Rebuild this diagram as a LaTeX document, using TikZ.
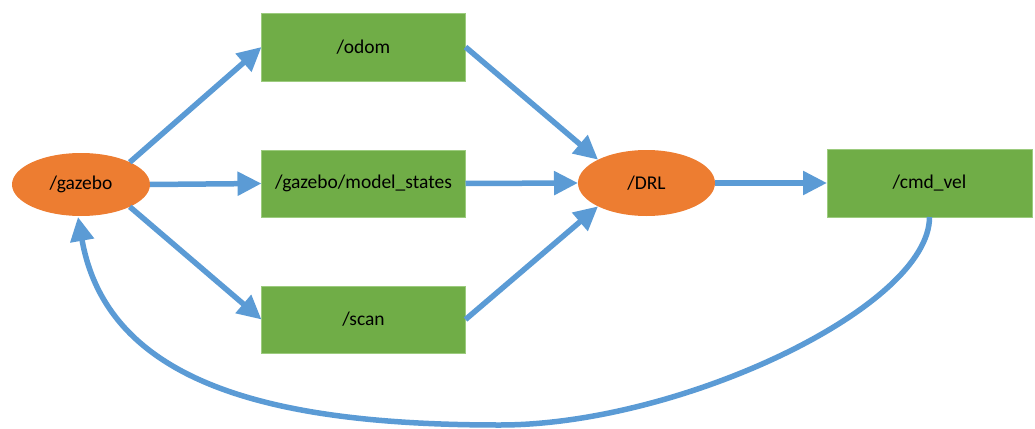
\documentclass[tikz,border=0pt]{standalone}
\usepackage{fontspec}
\setmainfont{Carlito}
\usetikzlibrary{arrows.meta,calc,shapes.geometric}
\definecolor{boxgreen}{HTML}{70AD47}
\definecolor{boxedge}{HTML}{9CCB7E}
\definecolor{nodeorange}{HTML}{ED7D31}
\definecolor{arrowblue}{HTML}{5B9BD5}
\begin{document}
\begin{tikzpicture}[x=1pt,y=-1pt,
  topicbox/.style={rectangle, fill=boxgreen, draw=boxedge, line width=0.8pt, minimum width=204pt, minimum height=67pt, inner sep=0pt, outer sep=0pt, font=\fontsize{19.5}{23}\selectfont},
  procnode/.style={ellipse, fill=nodeorange, draw=none, inner sep=0pt, outer sep=0pt, font=\fontsize{19.5}{23}\selectfont},
  link/.style={draw=arrowblue, line width=5.5pt, -{Triangle[length=24pt,width=23pt]}}
]
\useasboundingbox (0,0) rectangle (1035,428);
\node[procnode, minimum width=138pt, minimum height=63pt] (gazebo) at (81,184.5) {/gazebo};
\node[topicbox, minimum height=68pt] (odom) at (363.5,47) {/odom};
\node[topicbox] (states) at (363.5,183.5) {/gazebo/model\_states};
\node[topicbox] (scan) at (363.5,319.5) {/scan};
\node[procnode, minimum width=137pt, minimum height=66pt] (DRL) at (646.5,183) {/DRL};
\node[topicbox, minimum width=205pt, minimum height=68pt] (cmd) at (929.5,183) {/cmd\_vel};
\coordinate (bot) at (500,425);
\coordinate (gtip) at ($(gazebo.south)+(-3,1)$);

\draw[link] (gazebo.north east) -- (odom.west);
\draw[link] (gazebo.east) -- (states.west);
\draw[link] (gazebo.south east) -- (scan.west);
\draw[link] (odom.east) -- (DRL.north west);
\draw[link] (states.east) -- (DRL.west);
\draw[link] (scan.east) -- (DRL.south west);
\draw[link] (DRL.east) -- (cmd.west);
\draw[link] (cmd.south) .. controls +(0,90) and +(180,0) .. (bot)
  .. controls +(-220,0) and +(30,170) .. (gtip);
\end{tikzpicture}
\end{document}
